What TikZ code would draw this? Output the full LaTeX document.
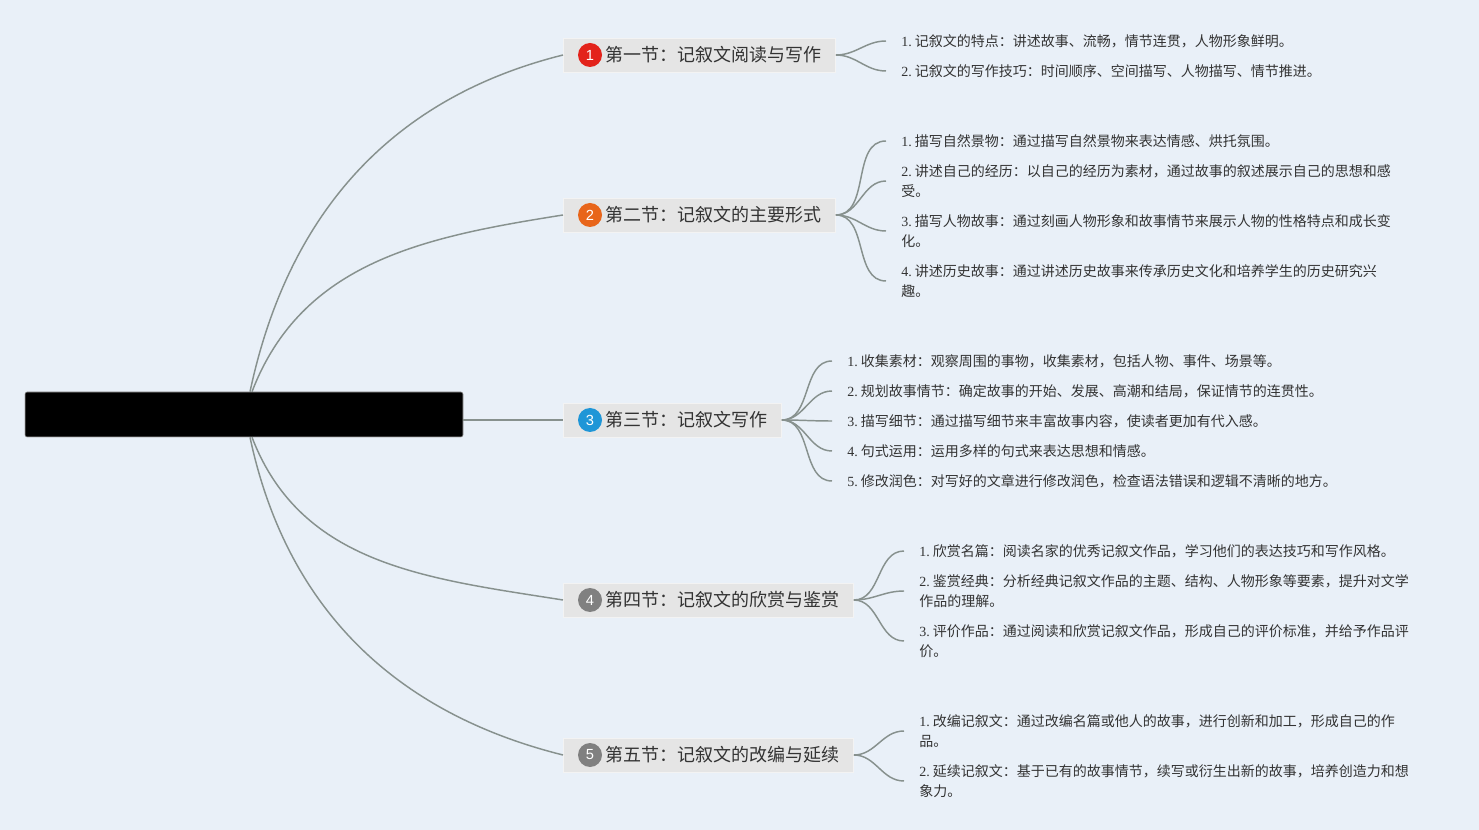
\documentclass[tikz,border=0pt]{standalone}
\usepackage{fontspec}
\setmainfont{Liberation Serif}
\newfontfamily\cjkfont{Noto Sans CJK SC}
\newfontfamily\badgefont{Liberation Sans}
\usepackage{tikz}
\definecolor{bgblue}{HTML}{E9F0F8}
\definecolor{secgray}{HTML}{E5E5E5}
\definecolor{edgegray}{HTML}{87918E}
\definecolor{txtdark}{HTML}{333333}
\definecolor{numred}{HTML}{E3231B}
\definecolor{numorange}{HTML}{E8651A}
\definecolor{numblue}{HTML}{1F96D7}
\definecolor{numgray}{HTML}{808080}
\newcommand{\itemno}[1]{{\rmfamily #1.}\ }
\tikzset{
  rootbox/.style={fill=black,draw=gray!70,rounded corners=1.5pt,
    minimum width=328.5pt,minimum height=33.75pt,inner sep=0pt},
  secbox/.style={fill=secgray,draw=white!55!secgray,line width=0.6pt,anchor=west,
    minimum height=25.5pt,inner xsep=10.5pt,inner ysep=0pt,text=txtdark,
    font=\cjkfont\fontsize{13.5}{16}\selectfont},
  secnum/.style={circle,fill=#1,text=white,minimum size=18pt,inner sep=0pt,
    font=\badgefont\fontsize{11}{12}\selectfont},
  itemtxt/.style={anchor=west,align=left,inner xsep=11.25pt,inner ysep=0pt,
    text=txtdark,font=\cjkfont\fontsize{10.5}{15}\selectfont},
  bedge/.style={draw=edgegray,line width=1.1pt},
}
\begin{document}
\begin{tikzpicture}[x=0.75pt,y=-0.75pt]
  \fill[bgblue] (0,0) rectangle (1479,830);
  \useasboundingbox (0,0) rectangle (1479,830);

  \node[rootbox] (root) at (244,414.5) {};

  \node[secbox] (b1) at (563,55) {\hspace*{21pt}第一节：记叙文阅读与写作};
  \node[secbox] (b2) at (563,215) {\hspace*{21pt}第二节：记叙文的主要形式};
  \node[secbox] (b3) at (563,420) {\hspace*{21pt}第三节：记叙文写作};
  \node[secbox] (b4) at (563,600) {\hspace*{21pt}第四节：记叙文的欣赏与鉴赏};
  \node[secbox] (b5) at (563,755) {\hspace*{21pt}第五节：记叙文的改编与延续};
  \node[secnum=numred] (n1) at (590,55) {1};
  \node[secnum=numorange] (n2) at (590,215) {2};
  \node[secnum=numblue] (n3) at (590,420) {3};
  \node[secnum=numgray] (n4) at (590,600) {4};
  \node[secnum=numgray] (n5) at (590,755) {5};

  \node[itemtxt] (l11) at (886,41) {\itemno{1}记叙文的特点：讲述故事、流畅，情节连贯，人物形象鲜明。};
  \node[itemtxt] (l12) at (886,71) {\itemno{2}记叙文的写作技巧：时间顺序、空间描写、人物描写、情节推进。};

  \node[itemtxt] (l21) at (886,141) {\itemno{1}描写自然景物：通过描写自然景物来表达情感、烘托氛围。};
  \node[itemtxt] (l22) at (886,181) {\itemno{2}讲述自己的经历：以自己的经历为素材，通过故事的叙述展示自己的思想和感\\受。};
  \node[itemtxt] (l23) at (886,231) {\itemno{3}描写人物故事：通过刻画人物形象和故事情节来展示人物的性格特点和成长变\\化。};
  \node[itemtxt] (l24) at (886,281) {\itemno{4}讲述历史故事：通过讲述历史故事来传承历史文化和培养学生的历史研究兴\\趣。};

  \node[itemtxt] (l31) at (832,361) {\itemno{1}收集素材：观察周围的事物，收集素材，包括人物、事件、场景等。};
  \node[itemtxt] (l32) at (832,391) {\itemno{2}规划故事情节：确定故事的开始、发展、高潮和结局，保证情节的连贯性。};
  \node[itemtxt] (l33) at (832,421) {\itemno{3}描写细节：通过描写细节来丰富故事内容，使读者更加有代入感。};
  \node[itemtxt] (l34) at (832,451) {\itemno{4}句式运用：运用多样的句式来表达思想和情感。};
  \node[itemtxt] (l35) at (832,481) {\itemno{5}修改润色：对写好的文章进行修改润色，检查语法错误和逻辑不清晰的地方。};

  \node[itemtxt] (l41) at (904,551) {\itemno{1}欣赏名篇：阅读名家的优秀记叙文作品，学习他们的表达技巧和写作风格。};
  \node[itemtxt] (l42) at (904,591) {\itemno{2}鉴赏经典：分析经典记叙文作品的主题、结构、人物形象等要素，提升对文学\\作品的理解。};
  \node[itemtxt] (l43) at (904,641) {\itemno{3}评价作品：通过阅读和欣赏记叙文作品，形成自己的评价标准，并给予作品评\\价。};

  \node[itemtxt] (l51) at (904,731) {\itemno{1}改编记叙文：通过改编名篇或他人的故事，进行创新和加工，形成自己的作\\品。};
  \node[itemtxt] (l52) at (904,781) {\itemno{2}延续记叙文：基于已有的故事情节，续写或衍生出新的故事，培养创造力和想\\象力。};

  \draw[bedge] ([xshift=4.5pt]root.north) to[out=78,in=194] (b1.west);
  \draw[bedge] ([xshift=6pt]root.north) to[out=69,in=189] (b2.west);
  \draw[bedge] (root.east |- b3.west) -- (b3.west);
  \draw[bedge] ([xshift=6pt]root.south) to[out=-69,in=171] (b4.west);
  \draw[bedge] ([xshift=4.5pt]root.south) to[out=-78,in=166] (b5.west);

  \foreach \i/\n in {1/2,2/4,3/5,4/3,5/2}
    \foreach \j in {1,...,\n}
      \draw[bedge] (b\i.east) to[out=0,in=180] (l\i\j.west);
\end{tikzpicture}
\end{document}
